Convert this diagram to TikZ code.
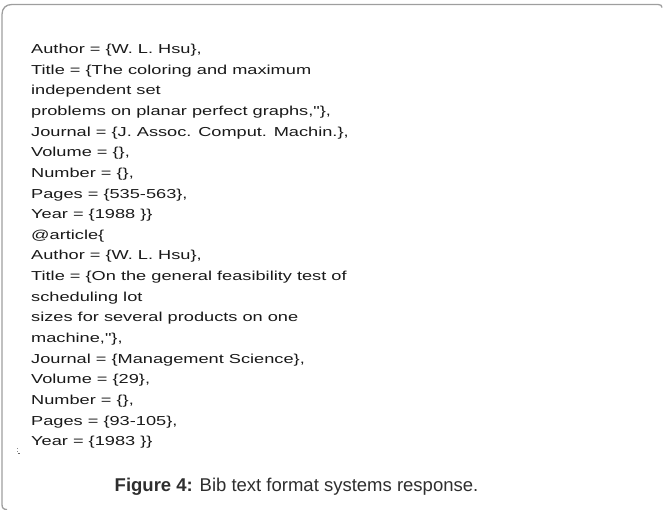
\documentclass[tikz,border=0pt]{standalone}
\usepackage{fontspec}
\setmainfont{Liberation Sans}
\newfontfamily\bibfont[FakeStretch=1.4]{Liberation Sans}
\begin{document}
\begin{tikzpicture}[x=1pt,y=-1pt,
  bibline/.style={anchor=base west,inner sep=0pt,font=\bibfont\fontsize{13}{15}\selectfont,text=black!90},
  frameline/.style={draw=black!38,line width=1.3pt}]
\useasboundingbox (0,0) rectangle (663,510);
% frame
\draw[frameline] (7,509.5) .. controls (3.5,509.5) and (2,508) .. (2,504.5) -- (2,14.5) .. controls (2,8) and (6,4.5) .. (12,4.5) -- (658,4.5) .. controls (660.5,4.5) and (662,5.5) .. (662,7.5);
% small artefact mark
\fill[black!45] (17,448) rectangle (18,449);
\fill[black!45] (17,450.5) rectangle (18,451.5);
\fill[black!60] (18,453) rectangle (20,454);
% lines
\node[bibline] (l0) at (31,53.5) {Author = \{W. L. Hsu\},};
\node[bibline] (l1) at (31,74.15) {Title = \{The coloring and maximum};
\node[bibline] (l2) at (31,94.8) {independent set};
\node[bibline] (l3) at (31,115.45) {problems on planar perfect graphs,"\},};
\node[bibline] (l4) at (31,136.1) {Journal = \{J. Assoc. Comput. Machin.\},};
\node[bibline] (l5) at (31,156.75) {Volume = \{\},};
\node[bibline] (l6) at (31,177.4) {Number = \{\},};
\node[bibline] (l7) at (31,198.05) {Pages = \{535-563\},};
\node[bibline] (l8) at (31,218.7) {Year = \{1988 \}\}};
\node[bibline] (l9) at (31,239.35) {@article\{};
\node[bibline] (l10) at (31,260) {Author = \{W. L. Hsu\},};
\node[bibline] (l11) at (31,280.65) {Title = \{On the general feasibility test of};
\node[bibline] (l12) at (31,301.3) {scheduling lot};
\node[bibline] (l13) at (31,321.95) {sizes for several products on one};
\node[bibline] (l14) at (31,342.6) {machine,"\},};
\node[bibline] (l15) at (31,363.25) {Journal = \{Management Science\},};
\node[bibline] (l16) at (31,383.9) {Volume = \{29\},};
\node[bibline] (l17) at (31,404.55) {Number = \{\},};
\node[bibline] (l18) at (31,425.2) {Pages = \{93-105\},};
\node[bibline] (l19) at (31,445.85) {Year = \{1983 \}\}};
% caption
\node[anchor=base west,inner sep=0pt,font=\fontsize{18.5}{22}\selectfont,text=black!82] (cap) at (114.5,491.5) {\textbf{Figure 4:} Bib text format systems response.};
\end{tikzpicture}
\end{document}
